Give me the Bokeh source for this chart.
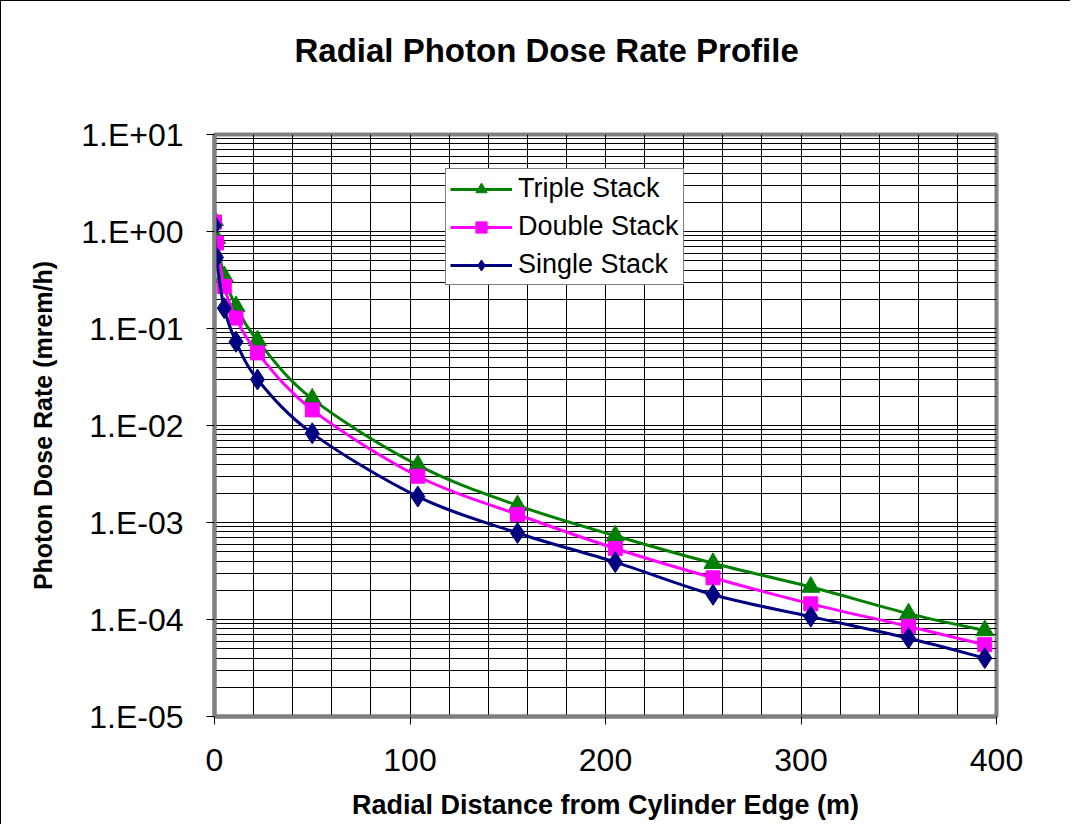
import numpy as np
from bokeh.plotting import figure
from bokeh.models import FixedTicker, Legend, LegendItem, Title
from bokeh.embed import file_html
from bokeh.resources import INLINE

# ---- data ----
distance_m = [0, 1, 5, 11, 22, 50, 104, 155, 205, 255, 305, 355, 394]
triple_stack = [1.3, 0.85, 0.344, 0.169, 0.075, 0.0188, 0.0039, 0.0015,
                7.3e-4, 3.8e-4, 2.16e-4, 1.15e-4, 7.7e-5]
double_stack = [1.25, 0.76, 0.271, 0.128, 0.056, 0.0145, 0.0030, 0.00121,
                5.4e-4, 2.69e-4, 1.45e-4, 8.5e-5, 5.5e-5]
single_stack = [1.15, 0.54, 0.162, 0.073, 0.0298, 0.0083, 0.00185, 7.8e-4,
                3.9e-4, 1.8e-4, 1.07e-4, 6.4e-5, 4.0e-5]

series_names = ["Triple Stack", "Double Stack", "Single Stack"]
y_ticks = [1e-5, 1e-4, 1e-3, 1e-2, 1e-1, 1.0, 10.0]
y_tick_labels = ["1.E-05", "1.E-04", "1.E-03", "1.E-02", "1.E-01", "1.E+00", "1.E+01"]
x_ticks = [0, 100, 200, 300, 400]
x_grid_step = 20
title_text = "Radial Photon Dose Rate Profile"
x_label_text = "Radial Distance from Cylinder Edge (m)"
y_label_text = "Photon Dose Rate (mrem/h)"

# ---- layout ----
W, H = 1069, 823
FL, FT, FW, FH = 213, 133, 782, 582

p = figure(width=W, height=H, x_range=(0, 400), y_range=(1e-5, 10),
           y_axis_type="log", output_backend="svg", toolbar_location=None,
           min_border_left=FL, min_border_top=FT,
           min_border_right=W - FL - FW, min_border_bottom=H - FT - FH,
           frame_width=FW, frame_height=FH,
           background_fill_color="white", border_fill_color="white",
           styles={"border-left": "1px solid black", "border-top": "1px solid black"})

# spacer (nearest the frame) then the real title above it
p.add_layout(Title(text=" ", text_font_size="10px", standoff=53), "above")
p.add_layout(Title(text=title_text, align="left", offset=80,
                   text_font="Liberation Sans", text_font_size="33px",
                   text_font_style="bold", text_color="black", standoff=0), "above")

p.outline_line_color = "#808080"
p.outline_line_width = 4

# grids
y_minor = [m * t for t in y_ticks[:-1] for m in range(2, 10)]
p.ygrid.ticker = FixedTicker(ticks=y_ticks, minor_ticks=y_minor)
p.ygrid.grid_line_color = "black"
p.ygrid.minor_grid_line_color = "black"
p.ygrid.grid_line_width = 1
p.ygrid.minor_grid_line_width = 1
p.xgrid.ticker = FixedTicker(ticks=list(range(x_ticks[0], x_ticks[-1] + 1, x_grid_step)))
p.xgrid.grid_line_color = "black"

# axes
for ax in (p.xaxis[0], p.yaxis[0]):
    ax.axis_line_color = "#808080"
    ax.axis_line_width = 4
    ax.major_tick_line_color = "black"
    ax.major_tick_in = 0
    ax.minor_tick_line_color = None
    ax.major_label_text_font = "Liberation Sans"
    ax.major_label_text_font_size = "32px"
    ax.major_label_text_color = "black"
    ax.axis_label_text_font = "Liberation Sans"
    ax.axis_label_text_font_style = "bold"
    ax.axis_label_text_color = "black"

p.xaxis.ticker = FixedTicker(ticks=x_ticks)
p.xaxis.major_tick_out = 8
p.xaxis.major_label_standoff = 24
p.xaxis.axis_label = x_label_text
p.xaxis.axis_label_text_font_size = "27px"
p.xaxis.axis_label_standoff = 16

p.yaxis.ticker = FixedTicker(ticks=y_ticks)
p.yaxis.major_label_overrides = dict(zip(y_ticks, y_tick_labels))
p.yaxis.major_tick_out = 8
p.yaxis.major_label_standoff = 23
p.yaxis.axis_label = y_label_text
p.yaxis.axis_label_text_font_size = "25px"
p.yaxis.axis_label_standoff = 21


def smooth_controls(xs, ys):
    """Catmull-Rom style Bezier controls in (x, log10 y) space (Excel-like smoothing)."""
    lx = np.asarray(xs, float)
    ly = np.log10(np.asarray(ys, float))
    n = len(lx)
    out = {k: [] for k in ("x0", "y0", "x1", "y1", "cx0", "cy0", "cx1", "cy1")}
    for i in range(n - 1):
        im = max(i - 1, 0)
        ip = min(i + 2, n - 1)
        c0x = lx[i] + (lx[i + 1] - lx[im]) / 6
        c0y = ly[i] + (ly[i + 1] - ly[im]) / 6
        c1x = lx[i + 1] - (lx[ip] - lx[i]) / 6
        c1y = ly[i + 1] - (ly[ip] - ly[i]) / 6
        out["x0"].append(lx[i]); out["y0"].append(10 ** ly[i])
        out["x1"].append(lx[i + 1]); out["y1"].append(10 ** ly[i + 1])
        out["cx0"].append(c0x); out["cy0"].append(10 ** c0y)
        out["cx1"].append(c1x); out["cy1"].append(10 ** c1y)
    return out


styles = [
    ("#008000", "triangle", 18),
    ("#FF00FF", "square", 14),
    ("#000080", "diamond", 21),
]
items = []
for name, ys, (col, mk, sz) in zip(series_names, [triple_stack, double_stack, single_stack], styles):
    c = smooth_controls(distance_m, ys)
    br = p.bezier(x0=c["x0"], y0=c["y0"], x1=c["x1"], y1=c["y1"],
                  cx0=c["cx0"], cy0=c["cy0"], cx1=c["cx1"], cy1=c["cy1"],
                  line_color=col, line_width=3)
    sr = p.scatter(distance_m, ys, marker=mk, size=sz, fill_color=col, line_color=col)
    items.append(LegendItem(label=name, renderers=[br, sr]))

legend = Legend(items=items, location=(231, 431), orientation="vertical",
                label_text_font="Liberation Sans", label_text_font_size="27px",
                label_text_color="black", glyph_width=62, glyph_height=28,
                label_height=28, spacing=7, padding=4, margin=0,
                border_line_color="black", border_line_width=1,
                background_fill_color="white", background_fill_alpha=1.0,
                label_standoff=6)
p.add_layout(legend, "center")

open("out.html", "w").write(file_html(p, INLINE))
